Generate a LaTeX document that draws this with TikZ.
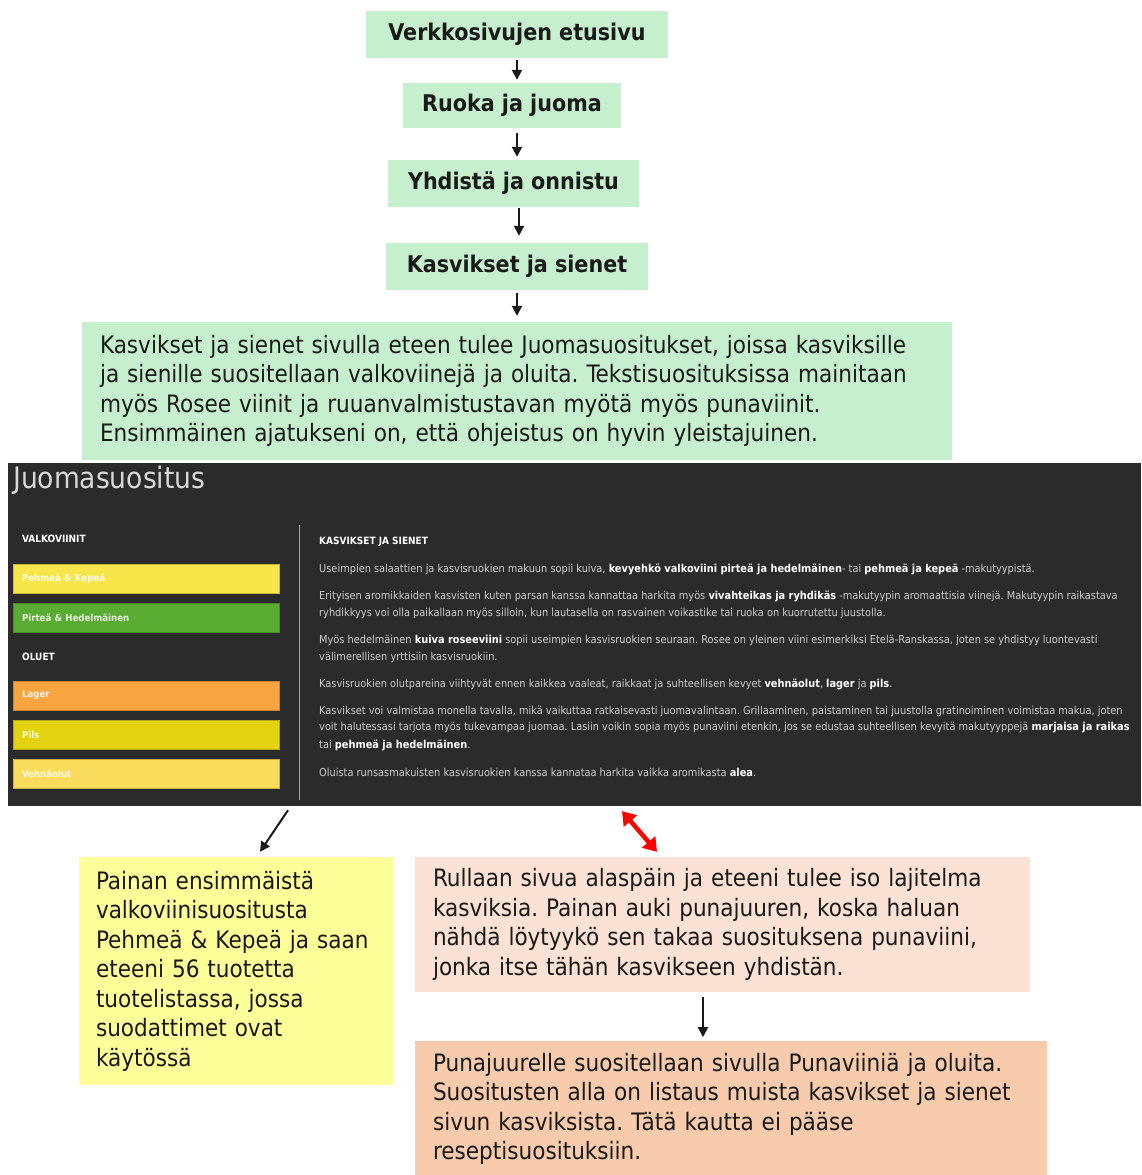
\documentclass[tikz,border=0pt]{standalone}
\usepackage{fontspec}
\setmainfont{DejaVu Sans Condensed}
\usepackage{xcolor}
\definecolor{stepgreen}{HTML}{C6EFCE}
\definecolor{noteyellow}{HTML}{FFFF99}
\definecolor{notepeach}{HTML}{FBE2D5}
\definecolor{notesalmon}{HTML}{F8CBAD}
\definecolor{pagedark}{HTML}{2B2B2B}
\definecolor{pagetext}{HTML}{CDCDCD}
\definecolor{barpehmea}{HTML}{F7E64A}
\definecolor{barpirtea}{HTML}{5AAB32}
\definecolor{barlager}{HTML}{F6A540}
\definecolor{barpils}{HTML}{E3D20F}
\definecolor{barvehna}{HTML}{F9DC5C}
\definecolor{inktext}{HTML}{1A1A1A}
\usetikzlibrary{positioning,arrows.meta,calc}
\frenchspacing

\begin{document}
\begin{tikzpicture}[x=1pt,y=-1pt,
	stepbox/.style={fill=stepgreen,text=inktext,font=\bfseries\fontsize{23}{27}\selectfont,inner sep=0pt,minimum height=47pt},
	notebox/.style={text=inktext,font=\fontsize{24}{29.5}\selectfont,align=left,inner ysep=0pt,inner xsep=18pt},
	barbox/.style={minimum width=266pt,minimum height=29pt,text width=248pt,inner xsep=9pt,inner ysep=0pt,align=left,font=\bfseries\fontsize{9.6}{11}\selectfont},
	pagelabel/.style={anchor=west,inner sep=0pt,text=white,font=\bfseries\fontsize{10}{11}\selectfont},
	pageline/.style={anchor=west,inner sep=0pt,text=pagetext,font=\fontsize{10.9}{12}\selectfont},
	arr/.style={-{Triangle[width=10pt,length=10pt]},line width=2pt,inktext},
	dblarr/.style={{Triangle[width=17pt,length=13pt]}-{Triangle[width=17pt,length=13pt]},line width=4.5pt,red}]
	
	\useasboundingbox (0,0) rectangle (1141,1175);
	
	% draw path steps
	\node[stepbox,minimum width=302pt] (s1) at (517,34) {Verkkosivujen etusivu};
	\node[stepbox,minimum width=218pt,minimum height=45pt] (s2) at (512,105.5) {Ruoka ja juoma};
	\node[stepbox,minimum width=251pt] (s3) at (513.5,183.5) {Yhdistä ja onnistu};
	\node[stepbox,minimum width=262pt] (s4) at (517,266.5) {Kasvikset ja sienet};
	\node[notebox,fill=stepgreen,minimum width=870pt,minimum height=138pt,text width=834pt] (s5) at (517,391)
	{Kasvikset ja sienet sivulla eteen tulee Juomasuositukset, joissa kasviksille\\
		ja sienille suositellaan valkoviinejä ja oluita. Tekstisuosituksissa mainitaan\\
		myös Rosee viinit ja ruuanvalmistustavan myötä myös punaviinit.\\
		Ensimmäinen ajatukseni on, että ohjeistus on hyvin yleistajuinen.};
	
	\draw[arr] ([yshift=-2pt]s1.south) -- ($(s1.south |- s2.north)+(0,-3)$);
	\draw[arr] ($(s2.south)+(5,5)$) -- ($(s2.south |- s3.north)+(5,-3)$);
	\draw[arr] ($(s3.south)+(5.5,1)$) -- ($(s3.south |- s4.north)+(5.5,-7)$);
	\draw[arr] ([yshift=-3pt]s4.south) -- ($(s4.south |- s5.north)+(0,-6)$);
	
	%draw page
	\node[fill=pagedark,minimum width=1133pt,minimum height=343pt,inner sep=0pt] (page) at (574.5,634.5) {};
	\node[anchor=west,inner sep=0pt,text=gray!30,font=\fontsize{29.5}{32}\selectfont] (title) at (13,480) {Juomasuositus};
	\draw[gray!70,line width=1pt] (299,525) -- (299,800);
	
	\node[pagelabel] (valko) at (22,539) {VALKOVIINIT};
	\node[pagelabel] (oluet) at (22,657) {OLUET};
	\foreach \n/\y/\c/\t in {pehmea/578.5/barpehmea/Pehmeä \& Kepeä,pirtea/617.5/barpirtea/Pirteä \& Hedelmäinen,lager/695.5/barlager/Lager,pils/734.5/barpils/Pils,vehna/773.5/barvehna/Vehnäolut}
	\node[barbox,fill=\c,draw=\c!80!black,text=white!85!\c] (\n) at (146,\y) {\t};
	
	\node[pagelabel] (head) at (319,542) {KASVIKSET JA SIENET};
	\node[pageline] (l1) at (319,569) {Useimpien salaattien ja kasvisruokien makuun sopii kuiva, \textbf{\color{white}kevyehkö valkoviini pirteä ja hedelmäinen}- tai \textbf{\color{white}pehmeä ja kepeä} -makutyypistä.};
	\node[pageline] (l2) at (319,596) {Erityisen aromikkaiden kasvisten kuten parsan kanssa kannattaa harkita myös \textbf{\color{white}vivahteikas ja ryhdikäs} -makutyypin aromaattisia viinejä. Makutyypin raikastava};
	\node[pageline] (l3) at (319,613) {ryhdikkyys voi olla paikallaan myös silloin, kun lautasella on rasvainen voikastike tai ruoka on kuorrutettu juustolla.};
	\node[pageline] (l4) at (319,640) {Myös hedelmäinen \textbf{\color{white}kuiva roseeviini} sopii useimpien kasvisruokien seuraan. Rosee on yleinen viini esimerkiksi Etelä-Ranskassa, joten se yhdistyy luontevasti};
	\node[pageline] (l5) at (319,657) {välimerellisen yrttisiin kasvisruokiin.};
	\node[pageline] (l6) at (319,684) {Kasvisruokien olutpareina viihtyvät ennen kaikkea vaaleat, raikkaat ja suhteellisen kevyet \textbf{\color{white}vehnäolut}, \textbf{\color{white}lager} ja \textbf{\color{white}pils}.};
	\node[pageline] (l7) at (319,711) {Kasvikset voi valmistaa monella tavalla, mikä vaikuttaa ratkaisevasti juomavalintaan. Grillaaminen, paistaminen tai juustolla gratinoiminen voimistaa makua, joten};
	\node[pageline] (l8) at (319,728) {voit halutessasi tarjota myös tukevampaa juomaa. Lasiin voikin sopia myös punaviini etenkin, jos se edustaa suhteellisen kevyitä makutyyppejä \textbf{\color{white}marjaisa ja raikas}};
	\node[pageline] (l9) at (319,745) {tai \textbf{\color{white}pehmeä ja hedelmäinen}.};
	\node[pageline] (l10) at (319,772) {Oluista runsasmakuisten kasvisruokien kanssa kannataa harkita vaikka aromikasta \textbf{\color{white}alea}.};
	
	% draw notes
	\node[notebox,fill=noteyellow,minimum width=314pt,minimum height=228pt,text width=280pt,inner xsep=17pt] (yel) at (236,971)
	{Painan ensimmäistä\\
		valkoviinisuositusta\\
		Pehmeä \& Kepeä ja saan\\
		eteeni 56 tuotetta\\
		tuotelistassa, jossa\\
		suodattimet ovat\\
		käytössä};
	\node[notebox,fill=notepeach,minimum width=615pt,minimum height=135pt,text width=579pt] (peach) at (722.5,924.5)
	{Rullaan sivua alaspäin ja eteeni tulee iso lajitelma\\
		kasviksia. Painan auki punajuuren, koska haluan\\
		nähdä löytyykö sen takaa suosituksena punaviini,\\
		jonka itse tähän kasvikseen yhdistän.};
	\node[notebox,fill=notesalmon,minimum width=632pt,minimum height=136pt,text width=596pt] (salmon) at (731,1109)
	{Punajuurelle suositellaan sivulla Punaviiniä ja oluita.\\
		Suositusten alla on listaus muista kasvikset ja sienet\\
		sivun kasviksista. Tätä kautta ei pääse\\
		reseptisuosituksiin.};
	
	\draw[arr] ($(page.south)+(-286.5,4)$) -- ($(yel.north)+(24,-5)$);
	\draw[dblarr] ($(page.south)+(47.5,5)$) -- ($(peach.north)+(-65.5,-5)$);
	\draw[arr] ($(peach.south)+(-19.5,5)$) -- ($(peach.south)+(-19.5,45)$);
\end{tikzpicture}
\end{document}
